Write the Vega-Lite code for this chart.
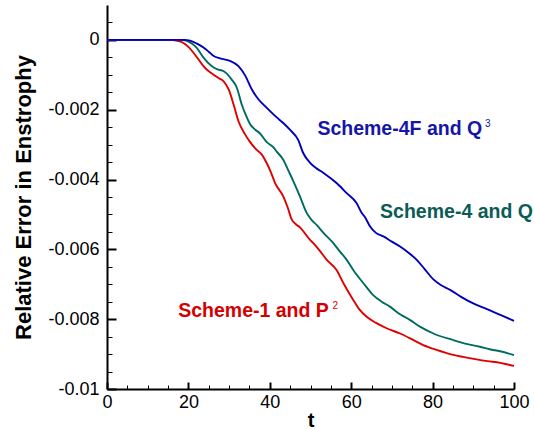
{
  "$schema": "https://vega.github.io/schema/vega-lite/v6.json",
  "autosize": {"type": "none"},
  "padding": {"left": 107, "top": 5, "right": 20, "bottom": 40},
  "width": 407,
  "height": 384,
  "background": "white",
  "config": {"view": {"stroke": null}, "font": "Liberation Sans"},
  "datasets": {
    "curves": [
      {"series": "Scheme-1", "t": 0, "v": 0}, {"series": "Scheme-1", "t": 15.5, "v": 0}, {"series": "Scheme-1", "t": 17, "v": -0.00002},
      {"series": "Scheme-1", "t": 18.7, "v": -0.00008}, {"series": "Scheme-1", "t": 20, "v": -0.0002}, {"series": "Scheme-1", "t": 21.2, "v": -0.00036},
      {"series": "Scheme-1", "t": 22.5, "v": -0.00056}, {"series": "Scheme-1", "t": 23.7, "v": -0.00075}, {"series": "Scheme-1", "t": 25, "v": -0.0009},
      {"series": "Scheme-1", "t": 26.1, "v": -0.00099}, {"series": "Scheme-1", "t": 27.5, "v": -0.0011}, {"series": "Scheme-1", "t": 28.6, "v": -0.00118},
      {"series": "Scheme-1", "t": 29.9, "v": -0.00142}, {"series": "Scheme-1", "t": 31.1, "v": -0.00185}, {"series": "Scheme-1", "t": 32.3, "v": -0.00233},
      {"series": "Scheme-1", "t": 34.0, "v": -0.00272}, {"series": "Scheme-1", "t": 35, "v": -0.0029}, {"series": "Scheme-1", "t": 36.6, "v": -0.00313},
      {"series": "Scheme-1", "t": 38.0, "v": -0.00328}, {"series": "Scheme-1", "t": 39.2, "v": -0.00352}, {"series": "Scheme-1", "t": 40.3, "v": -0.0038},
      {"series": "Scheme-1", "t": 41.3, "v": -0.0041}, {"series": "Scheme-1", "t": 43.3, "v": -0.00448}, {"series": "Scheme-1", "t": 44.4, "v": -0.0048},
      {"series": "Scheme-1", "t": 45.4, "v": -0.00515}, {"series": "Scheme-1", "t": 46.4, "v": -0.00528}, {"series": "Scheme-1", "t": 47.4, "v": -0.00537},
      {"series": "Scheme-1", "t": 49.9, "v": -0.00573}, {"series": "Scheme-1", "t": 50.7, "v": -0.00582}, {"series": "Scheme-1", "t": 52.4, "v": -0.00606},
      {"series": "Scheme-1", "t": 54.0, "v": -0.0063}, {"series": "Scheme-1", "t": 56.4, "v": -0.00659}, {"series": "Scheme-1", "t": 58.1, "v": -0.00697},
      {"series": "Scheme-1", "t": 60.5, "v": -0.00745}, {"series": "Scheme-1", "t": 62, "v": -0.00772}, {"series": "Scheme-1", "t": 63.8, "v": -0.00793},
      {"series": "Scheme-1", "t": 66, "v": -0.0081}, {"series": "Scheme-1", "t": 68.7, "v": -0.00826}, {"series": "Scheme-1", "t": 72.0, "v": -0.00841},
      {"series": "Scheme-1", "t": 75, "v": -0.00858}, {"series": "Scheme-1", "t": 77.7, "v": -0.00874}, {"series": "Scheme-1", "t": 81, "v": -0.00888},
      {"series": "Scheme-1", "t": 84.3, "v": -0.009}, {"series": "Scheme-1", "t": 87.5, "v": -0.00908}, {"series": "Scheme-1", "t": 90.8, "v": -0.00915},
      {"series": "Scheme-1", "t": 93.5, "v": -0.0092}, {"series": "Scheme-1", "t": 96.6, "v": -0.00925}, {"series": "Scheme-1", "t": 100, "v": -0.00934},

      {"series": "Scheme-4", "t": 0, "v": 0}, {"series": "Scheme-4", "t": 18, "v": 0}, {"series": "Scheme-4", "t": 19.6, "v": -0.00003},
      {"series": "Scheme-4", "t": 21, "v": -0.00012}, {"series": "Scheme-4", "t": 22.0, "v": -0.00022}, {"series": "Scheme-4", "t": 23.7, "v": -0.00051},
      {"series": "Scheme-4", "t": 25.7, "v": -0.00075}, {"series": "Scheme-4", "t": 27, "v": -0.00084}, {"series": "Scheme-4", "t": 28.6, "v": -0.00089},
      {"series": "Scheme-4", "t": 30.6, "v": -0.00113}, {"series": "Scheme-4", "t": 31.9, "v": -0.00137}, {"series": "Scheme-4", "t": 33.1, "v": -0.00185},
      {"series": "Scheme-4", "t": 34.1, "v": -0.00215}, {"series": "Scheme-4", "t": 35.1, "v": -0.0024}, {"series": "Scheme-4", "t": 36.2, "v": -0.00255},
      {"series": "Scheme-4", "t": 37.6, "v": -0.00268}, {"series": "Scheme-4", "t": 39.2, "v": -0.00292}, {"series": "Scheme-4", "t": 40.9, "v": -0.00308},
      {"series": "Scheme-4", "t": 41.7, "v": -0.0032}, {"series": "Scheme-4", "t": 43.3, "v": -0.00343}, {"series": "Scheme-4", "t": 44.6, "v": -0.00375},
      {"series": "Scheme-4", "t": 45.8, "v": -0.00405}, {"series": "Scheme-4", "t": 47.4, "v": -0.00448}, {"series": "Scheme-4", "t": 49.0, "v": -0.00494},
      {"series": "Scheme-4", "t": 50.2, "v": -0.00515}, {"series": "Scheme-4", "t": 51.5, "v": -0.0053}, {"series": "Scheme-4", "t": 53.2, "v": -0.00553},
      {"series": "Scheme-4", "t": 55.6, "v": -0.00582}, {"series": "Scheme-4", "t": 57.2, "v": -0.00606}, {"series": "Scheme-4", "t": 58.9, "v": -0.0063},
      {"series": "Scheme-4", "t": 60.5, "v": -0.00659}, {"series": "Scheme-4", "t": 63.0, "v": -0.00697}, {"series": "Scheme-4", "t": 65.4, "v": -0.00731},
      {"series": "Scheme-4", "t": 67.5, "v": -0.0075}, {"series": "Scheme-4", "t": 69.5, "v": -0.00764}, {"series": "Scheme-4", "t": 72, "v": -0.00786},
      {"series": "Scheme-4", "t": 74.4, "v": -0.00802}, {"series": "Scheme-4", "t": 77, "v": -0.00822}, {"series": "Scheme-4", "t": 80.2, "v": -0.00841},
      {"series": "Scheme-4", "t": 85.1, "v": -0.0086}, {"series": "Scheme-4", "t": 88, "v": -0.0087}, {"series": "Scheme-4", "t": 91.6, "v": -0.00879},
      {"series": "Scheme-4", "t": 94, "v": -0.00886}, {"series": "Scheme-4", "t": 96.6, "v": -0.00892}, {"series": "Scheme-4", "t": 100, "v": -0.00903},

      {"series": "Scheme-4F", "t": 0, "v": 0}, {"series": "Scheme-4F", "t": 19, "v": 0}, {"series": "Scheme-4F", "t": 20.4, "v": -0.00002},
      {"series": "Scheme-4F", "t": 22, "v": -0.0001}, {"series": "Scheme-4F", "t": 23.7, "v": -0.00022}, {"series": "Scheme-4F", "t": 25, "v": -0.00034},
      {"series": "Scheme-4F", "t": 26.2, "v": -0.00046}, {"series": "Scheme-4F", "t": 27.8, "v": -0.00053}, {"series": "Scheme-4F", "t": 30.2, "v": -0.0006},
      {"series": "Scheme-4F", "t": 32.3, "v": -0.00075}, {"series": "Scheme-4F", "t": 34.0, "v": -0.00103}, {"series": "Scheme-4F", "t": 35.6, "v": -0.00142},
      {"series": "Scheme-4F", "t": 37.2, "v": -0.0017}, {"series": "Scheme-4F", "t": 39.2, "v": -0.00194}, {"series": "Scheme-4F", "t": 41.7, "v": -0.00222},
      {"series": "Scheme-4F", "t": 43.3, "v": -0.00238}, {"series": "Scheme-4F", "t": 45.0, "v": -0.00258}, {"series": "Scheme-4F", "t": 47.0, "v": -0.00287},
      {"series": "Scheme-4F", "t": 48.2, "v": -0.00324}, {"series": "Scheme-4F", "t": 49.9, "v": -0.00352}, {"series": "Scheme-4F", "t": 51.5, "v": -0.00368},
      {"series": "Scheme-4F", "t": 53.2, "v": -0.00381}, {"series": "Scheme-4F", "t": 56.4, "v": -0.0041}, {"series": "Scheme-4F", "t": 58.9, "v": -0.00439},
      {"series": "Scheme-4F", "t": 61.3, "v": -0.00467}, {"series": "Scheme-4F", "t": 62.6, "v": -0.00496}, {"series": "Scheme-4F", "t": 63.4, "v": -0.00508},
      {"series": "Scheme-4F", "t": 64.6, "v": -0.00534}, {"series": "Scheme-4F", "t": 66, "v": -0.00552}, {"series": "Scheme-4F", "t": 67.9, "v": -0.00563},
      {"series": "Scheme-4F", "t": 70, "v": -0.00578}, {"series": "Scheme-4F", "t": 72.0, "v": -0.00592}, {"series": "Scheme-4F", "t": 74, "v": -0.00609},
      {"series": "Scheme-4F", "t": 76.1, "v": -0.0063}, {"series": "Scheme-4F", "t": 78, "v": -0.00656}, {"series": "Scheme-4F", "t": 80.2, "v": -0.00686},
      {"series": "Scheme-4F", "t": 82, "v": -0.00702}, {"series": "Scheme-4F", "t": 84.3, "v": -0.00716}, {"series": "Scheme-4F", "t": 87, "v": -0.00736},
      {"series": "Scheme-4F", "t": 90.0, "v": -0.00755}, {"series": "Scheme-4F", "t": 92.5, "v": -0.00767}, {"series": "Scheme-4F", "t": 94.9, "v": -0.00779},
      {"series": "Scheme-4F", "t": 97.5, "v": -0.00792}, {"series": "Scheme-4F", "t": 100, "v": -0.00805}
    ],
    "labels": [
      {"series": "Scheme-4F", "t": 51.7, "v": -0.00271, "text": "Scheme-4F and Q"},
      {"series": "Scheme-4", "t": 67.1, "v": -0.0051, "text": "Scheme-4 and Q"},
      {"series": "Scheme-1", "t": 17.5, "v": -0.00793, "text": "Scheme-1 and P"}
    ],
    "supers": [
      {"series": "Scheme-4F", "t": 92.9, "v": -0.00249, "text": "3"},
      {"series": "Scheme-1", "t": 55.4, "v": -0.0077, "text": "2"}
    ]
  },
  "resolve": {"axis": {"x": "independent", "y": "independent"}, "scale": {"color": "independent"}},
  "layer": [
    {
      "data": {"name": "curves"},
      "mark": {"type": "line", "strokeWidth": 1.9, "interpolate": "monotone"},
      "encoding": {
        "x": {"field": "t", "type": "quantitative",
          "scale": {"domain": [0, 100], "nice": false, "zero": false},
          "axis": {"orient": "bottom", "values": [0, 20, 40, 60, 80, 100], "tickSize": -7, "tickWidth": 2, "tickColor": "black",
            "domainWidth": 2, "domainColor": "black", "grid": false, "labelFontSize": 18, "labelColor": "black", "labelFlush": false,
            "labelOverlap": false, "labelPadding": 11, "labelExpr": "'' + datum.value",
            "title": "t", "titleFontSize": 20, "titleFontWeight": "bold", "titleColor": "black", "titlePadding": -1}},
        "y": {"field": "v", "type": "quantitative",
          "scale": {"domain": [-0.01, 0.001], "nice": false, "zero": false},
          "axis": {"orient": "left", "values": [-0.01, -0.008, -0.006, -0.004, -0.002, 0], "tickSize": -9, "tickWidth": 2, "tickColor": "black",
            "domainWidth": 2, "domainColor": "black", "grid": false, "labelFontSize": 18, "labelColor": "black", "labelFlush": false,
            "labelOverlap": false, "labelPadding": 17, "labelExpr": "'' + datum.value",
            "title": "Relative Error in Enstrophy", "titleFontSize": 22, "titleFontWeight": "bold", "titleColor": "black", "titlePadding": 12}},
        "color": {"field": "series", "type": "nominal", "legend": null,
          "scale": {"domain": ["Scheme-1", "Scheme-4", "Scheme-4F"], "range": ["#e00000", "#006b60", "#0000bb"]}}
      }
    },
    {
      "data": {"name": "labels"},
      "mark": {"type": "text", "align": "left", "baseline": "alphabetic", "fontSize": 19.5, "fontWeight": "bold", "font": "Liberation Sans"},
      "encoding": {
        "x": {"field": "t", "type": "quantitative",
          "axis": {"orient": "bottom", "values": [5, 10, 15, 25, 30, 35, 45, 50, 55, 65, 70, 75, 85, 90, 95], "tickSize": -4, "tickWidth": 1, "tickColor": "black",
            "domain": false, "grid": false, "labels": false, "title": null}},
        "y": {"field": "v", "type": "quantitative",
          "axis": {"orient": "left", "values": [-0.0095, -0.0085, -0.0075, -0.0065, -0.0055, -0.0045, -0.0035, -0.0025, -0.0015, -0.0005, 0.0005, -0.009, -0.007, -0.005, -0.003, -0.001],
            "tickSize": -5, "tickWidth": 1, "tickColor": "black", "domain": false, "grid": false, "labels": false, "title": null}},
        "text": {"field": "text"},
        "color": {"field": "series", "type": "nominal", "legend": null,
          "scale": {"domain": ["Scheme-1", "Scheme-4", "Scheme-4F"], "range": ["#d40000", "#0a5c55", "#1515a8"]}}
      }
    },
    {
      "data": {"name": "supers"},
      "mark": {"type": "text", "align": "left", "baseline": "alphabetic", "fontSize": 10, "font": "Liberation Sans"},
      "encoding": {
        "x": {"field": "t", "type": "quantitative", "axis": null},
        "y": {"field": "v", "type": "quantitative", "axis": null},
        "text": {"field": "text"},
        "color": {"field": "series", "type": "nominal", "legend": null,
          "scale": {"domain": ["Scheme-1", "Scheme-4", "Scheme-4F"], "range": ["#d40000", "#0a5c55", "#1515a8"]}}
      }
    }
  ]
}
